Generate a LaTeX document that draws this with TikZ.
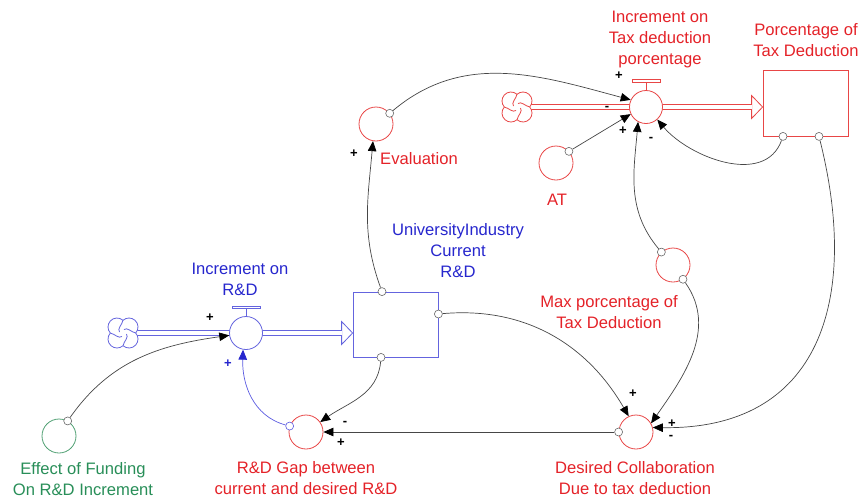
\documentclass[tikz,border=0pt]{standalone}
\usepackage{fontspec}
\setmainfont{Liberation Sans}
\usetikzlibrary{arrows.meta,backgrounds,calc}
\definecolor{vred}{RGB}{228,34,40}
\definecolor{sred}{RGB}{232,70,70}
\definecolor{vblue}{RGB}{38,38,205}
\definecolor{sblue}{RGB}{100,100,222}
\definecolor{lblue}{RGB}{90,90,225}
\definecolor{vgreen}{RGB}{40,142,88}
\definecolor{sgreen}{RGB}{80,160,115}
\definecolor{lgray}{RGB}{70,70,70}
\definecolor{tgray}{RGB}{105,105,105}
\newcommand{\lblfont}{\fontsize{16.6}{21}\selectfont}
\newcommand{\signfont}{\fontsize{13}{13}\selectfont\bfseries}
\tikzset{
  stockbox/.style={draw, rectangle, minimum width=85pt, minimum height=65pt, inner sep=0pt, line width=0.8pt},
  valvecirc/.style={draw, circle, minimum size=33pt, inner sep=0pt, fill=white, line width=0.8pt},
  auxcirc/.style={draw, circle, minimum size=34pt, inner sep=0pt, line width=0.8pt},
  cloudspot/.style={circle, minimum size=26pt, inner sep=0pt},
  tailc/.style={draw=tgray, circle, minimum size=8pt, inner sep=0pt, fill=white, line width=0.6pt},
  link/.style={draw=lgray, line width=0.7pt, -{Triangle[length=10pt,width=8.5pt,color=black]}},
  bluelink/.style={draw=lblue, line width=0.7pt, -{Triangle[length=10pt,width=8.5pt,color=vblue]}},
  pipe/.style={line width=0.8pt},
  lbl/.style={align=center, font=\lblfont, inner sep=0pt},
  sign/.style={font=\signfont, inner sep=0pt},
}
% four-lobed source cloud with an inner swirl, drawn round a node centre
\newcommand{\sourcecloud}[2]{%
  \begin{scope}[shift={(#1.center)}, #2, line width=0.8pt]
    \draw[fill=white] (12.71,0)
      arc[start angle=-41.8, end angle=131.8, radius=9]
      arc[start angle=48.2, end angle=221.8, radius=9]
      arc[start angle=138.2, end angle=311.8, radius=9]
      arc[start angle=228.2, end angle=401.8, radius=9] -- cycle;
    \foreach \r in {0,90,180,270}{
      \draw[rotate=\r] (0,12.71) .. controls (-1,8) and (-6,4.5) .. (-3.5,1);
    }
  \end{scope}}
\begin{document}
\begin{tikzpicture}[x=1pt,y=1pt]
\useasboundingbox (0,0) rectangle (862,-499);

% ---- University-industry R&D stock and its inflow
\node[cloudspot] (cloudA) at (123,-333) {};
\node[valvecirc, draw=sblue] (valveA) at (246,-333) {};
\node[stockbox, draw=sblue] (stockA) at (395.5,-324.5) {};
\draw[sblue, line width=0.8pt] (valveA.north) -- ++(0,7.5);
\draw[sblue, line width=0.7pt, fill=white] ($(valveA.north)+(-14,7.5)$) rectangle ($(valveA.north)+(14,10)$);

% ---- Tax deduction stock and its inflow
\node[cloudspot] (cloudB) at (517,-107) {};
\node[valvecirc, draw=sred] (valveB) at (646,-107) {};
\node[stockbox, draw=sred, minimum height=66pt] (stockB) at (805.5,-103) {};
\draw[sred, line width=0.8pt] (valveB.north) -- ++(0,8);
\draw[sred, line width=0.7pt, fill=white] ($(valveB.north)+(-14,8)$) rectangle ($(valveB.north)+(14,10.5)$);

% ---- auxiliaries
\node[auxcirc, draw=sred] (eval) at (376,-124) {};
\node[auxcirc, draw=sred] (at) at (556,-163) {};
\node[auxcirc, draw=sred] (maxp) at (673,-265) {};
\node[auxcirc, draw=sred] (desired) at (636,-432) {};
\node[auxcirc, draw=sred] (gap) at (306,-432) {};
\node[auxcirc, draw=sgreen] (eff) at (59,-436) {};

% ---- pipes (behind clouds and valves)
\begin{scope}[on background layer]
  \foreach \src/\vlv/\stk/\col in {cloudA/valveA/stockA/sblue, cloudB/valveB/stockB/sred}{
    \draw[pipe, \col] ([yshift=2.5pt]\src.center) -- ([yshift=2.5pt]\vlv.center);
    \draw[pipe, \col] ([yshift=-2.5pt]\src.center) -- ([yshift=-2.5pt]\vlv.center);
    \draw[pipe, \col] ([yshift=2.5pt]\vlv.center) -- ($(\stk.west |- \vlv.center)+(-11,2.5)$);
    \draw[pipe, \col] ([yshift=-2.5pt]\vlv.center) -- ($(\stk.west |- \vlv.center)+(-11,-2.5)$);
    \draw[pipe, \col, fill=white, line join=miter] ($(\stk.west |- \vlv.center)+(-11,11.5)$) -- (\stk.west |- \vlv.center) -- ($(\stk.west |- \vlv.center)+(-11,-11.5)$) -- cycle;
  }
\end{scope}
% open the base of each flow arrow where the pipe enters
\foreach \vlv/\stk in {valveA/stockA, valveB/stockB}{
  \fill[white] ($(\stk.west |- \vlv.center)+(-11.4,1.9)$) rectangle ($(\stk.west |- \vlv.center)+(-10.2,-1.9)$);
}
\sourcecloud{cloudA}{sblue}
\sourcecloud{cloudB}{sred}

% ---- link tails
\node[tailc] (tEff) at (eff.60) {};
\node[tailc, draw=lblue] (tGap) at (gap.160) {};
\node[tailc] (tSAtop) at ([xshift=-13.5pt]stockA.north) {};
\node[tailc] (tSAright) at ([yshift=10.5pt]stockA.east) {};
\node[tailc] (tSAbot) at ([xshift=-14.5pt]stockA.south) {};
\node[tailc] (tEval) at (eval.38) {};
\node[tailc] (tAT) at (at.42) {};
\node[tailc] (tMax1) at (maxp.132) {};
\node[tailc] (tMax2) at (maxp.-55) {};
\node[tailc] (tSB1) at ([xshift=-22.5pt]stockB.south) {};
\node[tailc] (tSB2) at ([xshift=13.5pt]stockB.south) {};
\node[tailc] (tDes) at (desired.west) {};

% ---- causal links
\draw[link] (tEff) to[out=55,in=188] (valveA.188);
\draw[bluelink] (tGap) to[out=165,in=-92] (valveA.-100);
\draw[link] (tSAtop) to[out=110,in=-95] (eval.-100);
\draw[link] (tEval) to[out=40,in=165] (valveB.155);
\draw[link] (tAT) -- (valveB.205);
\draw[link] (tSB1) to[out=-110,in=-50] (valveB.-48);
\draw[link] (tMax1) to[out=130,in=-95] (valveB.-118);
\draw[link] (tMax2) to[out=-55,in=55] (desired.30);
\draw[link] (tSB2) .. controls (860,-300) and (820,-430) .. (desired.15);
\draw[link] (tSAright) to[out=5,in=120] (desired.115);
\draw[link] (tSAbot) to[out=-95,in=35] (gap.35);
\draw[link] (tDes) -- (gap.east);

% ---- polarity signs
\node[sign] (p1) at (210,-318) {+};
\node[sign, text=vblue] (p2) at (228,-364) {+};
\node[sign] (p3) at (354,-154) {+};
\node[sign] (p4) at (619,-76) {+};
\node[sign] (p5) at (607,-108) {-};
\node[sign] (p6) at (623,-131) {+};
\node[sign] (p7) at (651,-139) {-};
\node[sign] (p8) at (633,-394) {+};
\node[sign] (p9) at (672,-424) {+};
\node[sign] (p10) at (671,-437) {-};
\node[sign] (p11) at (345,-423) {-};
\node[sign] (p12) at (341,-443) {+};

% ---- labels
\node[lbl, text=vblue] (lValveA) at (240,-279) {Increment on\\R\&D};
\node[lbl, text=vblue] (lStockA) at (458,-251) {UniversityIndustry\\Current\\R\&D};
\node[lbl, text=vred] (lEval) at (419,-159) {Evaluation};
\node[lbl, text=vred] (lValveB) at (660,-40) {Increment on\\Tax deduction\\porcentage};
\node[lbl, text=vred] (lStockB) at (806,-40) {Porcentage of\\Tax Deduction};
\node[lbl, text=vred] (lAT) at (557,-200) {AT};
\node[lbl, text=vred] (lMax) at (609,-312) {Max porcentage of\\Tax Deduction};
\node[lbl, text=vred] (lDes) at (635,-478) {Desired Collaboration\\Due to tax deduction};
\node[lbl, text=vred] (lGap) at (306,-478) {R\&D Gap between\\current and desired R\&D};
\node[lbl, text=vgreen] (lEff) at (83,-479) {Effect of Funding\\On R\&D Increment};
\end{tikzpicture}
\end{document}
